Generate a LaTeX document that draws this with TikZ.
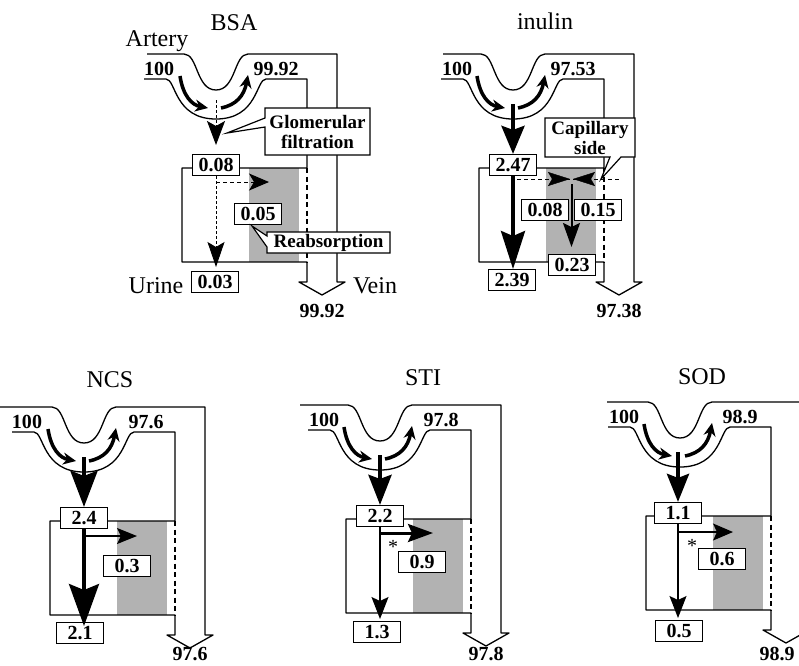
\documentclass[tikz,border=0pt]{standalone}
\usepackage{fontspec}
\setmainfont{Liberation Serif}
\usetikzlibrary{arrows.meta}
\newcommand\kidneyoutline[2]{%
  \fill[cellfill] (33,114) rectangle (83,208);
  \draw[tubeline] (#1,0) -- (-32,0) .. controls (-18,0) and (-20,36) .. (0,36)
     .. controls (20,36) and (18,0) .. (32,0) -- (#2,0) -- (#2,228) -- (129,228)
     -- (106,241) -- (83,228) -- (91,228) -- (91,208) -- (-34,208) -- (-34,114)
     -- (91,114) -- (91,25) -- (50,25)
     .. controls (40,25) and (42,65) .. (0,65) .. controls (-42,65) and (-40,25) .. (-50,25)
     -- (-72,25);
  \draw[capdash] (91,114) -- (91,208);
  \draw[uarrow] (-36,22) .. controls (-33,42) and (-24,51) .. (-8,54);
  \draw[uarrow] (5,54) .. controls (20,51) and (28,42) .. (32,21);
}
\begin{document}
\begin{tikzpicture}[x=1pt,y=-1pt,
  tubeline/.style={line width=1.3pt,line join=round},
  capdash/.style={line width=1.6pt,dash pattern=on 5pt off 3.5pt},
  cellfill/.style={fill=black!30},
  lab/.style={draw,fill=white,line width=1.2pt,inner sep=1.5pt,minimum width=47pt,minimum height=21pt,font=\bfseries\fontsize{20}{22}\selectfont},
  num/.style={font=\bfseries\fontsize{20}{22}\selectfont,anchor=base,inner sep=0pt},
  ttl/.style={font=\fontsize{24}{26}\selectfont,inner sep=0pt},
  word/.style={font=\fontsize{24}{26}\selectfont,anchor=base,inner sep=0pt},
  star/.style={font=\fontsize{20}{22}\selectfont,anchor=base,inner sep=0pt},
  calloutbox/.style={draw,fill=white,line width=1.2pt,line join=miter},
  calltext/.style={font=\bfseries\fontsize{19}{20}\selectfont,align=center,inner sep=0pt},
  uarrow/.style={line width=3.5pt,-{Stealth[length=13pt,width=12pt]}},
  flowdash/.style={line width=1pt,dash pattern=on 3pt off 2pt},
]
\useasboundingbox (0,0) rectangle (799,665);

% ---------------- BSA ----------------
\begin{scope}[shift={(216,54)}]
  \kidneyoutline{-69}{121}
  \node[lab] (bsaF) at (0,111) {0.08};
  \node[lab] (bsaR) at (42,160) {0.05};
  \node[lab] (bsaO) at (-1,228) {0.03};
  \node[num] (bsaIn) at (-57,21) {100};
  \node[num] (bsaOut) at (60,21) {99.92};
  \coordinate (bsaUa) at (0,46);
  \coordinate (bsaUb) at (0,91);
  \draw[flowdash,-{Stealth[length=24pt,width=18pt,inset=5pt]}] (bsaUa) -- (bsaUb);
  \coordinate (bsaT) at (0,213);
  \draw[flowdash,-{Stealth[length=25pt,width=17pt,inset=5pt]}] (bsaF.south) -- (bsaT);
  \coordinate (bsaJ) at (0,128);
  \coordinate (bsaH) at (53,128);
  \draw[line width=1pt,dash pattern=on 4pt off 3pt,-{Stealth[length=20pt,width=17pt,inset=5pt]}] (bsaJ) -- (bsaH);
\end{scope}

% ---------------- inulin ----------------
\begin{scope}[shift={(513,54)}]
  \kidneyoutline{-70}{121}
  \node[lab] (inuF) at (0,111) {2.47};
  \node[lab] (inuA) at (32,156) {0.08};
  \node[lab] (inuB) at (85,156) {0.15};
  \node[lab] (inuC) at (59,211) {0.23};
  \node[lab] (inuO) at (-1,226) {2.39};
  \node[num] (inuIn) at (-56,21) {100};
  \node[num] (inuOut) at (60,21) {97.53};
  \coordinate (inuU) at (0,50);
  \draw[line width=4pt,-{Stealth[length=28pt,width=23pt,inset=4pt]}] (inuU) -- (inuF.north);
  \coordinate (inuT) at (0,215);
  \draw[line width=3.5pt,-{Stealth[length=38pt,width=24pt,inset=5pt]}] (inuF.south) -- (inuT);
  \coordinate (inuDa) at (4,125);
  \coordinate (inuDb) at (107,125);
  \draw[line width=1pt,dash pattern=on 4pt off 3pt] (inuDa) -- (inuDb);
  \coordinate (inuLa) at (55,125);
  \coordinate (inuLb) at (57,125);
  \coordinate (inuRa) at (62,125);
  \coordinate (inuRb) at (60,125);
  \draw[-{Stealth[length=22pt,width=14pt,inset=4pt]}] (inuLa) -- (inuLb);
  \draw[-{Stealth[length=22pt,width=14pt,inset=4pt]}] (inuRa) -- (inuRb);
  \coordinate (inuM) at (58.5,130);
  \coordinate (inuN) at (58.5,193);
  \draw[line width=2pt,-{Stealth[length=24pt,width=17pt,inset=4pt]}] (inuM) -- (inuN);
\end{scope}

% ---------------- NCS ----------------
\begin{scope}[shift={(84,407)}]
  \kidneyoutline{-84}{121}
  \node[lab] (ncsF) at (0,111) {2.4};
  \node[lab] (ncsR) at (43,159) {0.3};
  \node[lab] (ncsO) at (-4,226) {2.1};
  \node[num] (ncsIn) at (-57,21) {100};
  \node[num] (ncsOut) at (62,21) {97.6};
  \coordinate (ncsU) at (0,50);
  \draw[line width=4pt,-{Stealth[length=36pt,width=27pt,inset=5pt]}] (ncsU) -- (ncsF.north);
  \coordinate (ncsT) at (0,219);
  \draw[line width=3.5pt,-{Stealth[length=42pt,width=30pt,inset=6pt]}] (ncsF.south) -- (ncsT);
  \coordinate (ncsJ) at (0,129);
  \coordinate (ncsH) at (53,129);
  \draw[line width=1.3pt,-{Stealth[length=20pt,width=16pt,inset=4pt]}] (ncsJ) -- (ncsH);
\end{scope}

% ---------------- STI ----------------
\begin{scope}[shift={(380,405)}]
  \kidneyoutline{-80}{121}
  \node[lab] (stiF) at (0,111) {2.2};
  \node[lab] (stiR) at (42,157) {0.9};
  \node[lab] (stiO) at (-3,227) {1.3};
  \node[num] (stiIn) at (-56,21) {100};
  \node[num] (stiOut) at (61,21) {97.8};
  \node[star] (stiStar) at (13,148) {*};
  \coordinate (stiU) at (0,50);
  \draw[line width=4pt,-{Stealth[length=30pt,width=23pt,inset=4pt]}] (stiU) -- (stiF.north);
  \coordinate (stiT) at (0,214);
  \draw[line width=1.3pt,-{Stealth[length=22pt,width=17pt,inset=4pt]}] (stiF.south) -- (stiT);
  \coordinate (stiJ) at (0,128);
  \coordinate (stiH) at (53,128);
  \draw[line width=3pt,-{Stealth[length=25pt,width=18pt,inset=4pt]}] (stiJ) -- (stiH);
\end{scope}

% ---------------- SOD ----------------
\begin{scope}[shift={(680,402)}]
  \kidneyoutline{-73}{125}
  \node[lab] (sodF) at (-2,111) {1.1};
  \node[lab] (sodR) at (42,157) {0.6};
  \node[lab] (sodO) at (-1,229) {0.5};
  \node[num] (sodIn) at (-56,21) {100};
  \node[num] (sodOut) at (60,21) {98.9};
  \node[star] (sodStar) at (12,150) {*};
  \coordinate (sodU) at (-2,50);
  \draw[line width=4pt,-{Stealth[length=28pt,width=22pt,inset=4pt]}] (sodU) -- (sodF.north);
  \coordinate (sodT) at (-2,216);
  \draw[line width=1.3pt,-{Stealth[length=22pt,width=17pt,inset=4pt]}] (sodF.south) -- (sodT);
  \coordinate (sodJ) at (-2,130);
  \coordinate (sodH) at (53,130);
  \draw[line width=1.3pt,-{Stealth[length=20pt,width=17pt,inset=4pt]}] (sodJ) -- (sodH);
\end{scope}

% ---------------- callouts ----------------
\draw[calloutbox] (265,108) -- (370,108) -- (370,155) -- (265,155) -- (265,127) -- (227,133) -- (265,118) -- cycle;
\node[calltext] (glom) at (317.5,131.5) {Glomerular\\filtration};
\draw[calloutbox] (267,232) -- (390,232) -- (390,253) -- (267,253) -- (267,247) -- (252,226) -- (267,236) -- cycle;
\node[calltext] (reab) at (328.5,242.5) {Reabsorption};
\draw[calloutbox] (545,118) -- (635,118) -- (635,157) -- (621,157) -- (601,179) -- (610,157) -- (545,157) -- cycle;
\node[calltext] (capside) at (590,137.5) {Capillary\\side};

% ---------------- titles and words ----------------
\node[ttl] (tBSA) at (234,23) {BSA};
\node[ttl] (tinu) at (545,21) {inulin};
\node[ttl] (tNCS) at (110,380) {NCS};
\node[ttl] (tSTI) at (423,378) {STI};
\node[ttl] (tSOD) at (702,377) {SOD};
\node[word] (artery) at (157,46) {Artery};
\node[word] (urine) at (156,293) {Urine};
\node[word] (vein) at (375,293) {Vein};

% ---------------- venous outflow ----------------
\node[num] (bsaV) at (322,317) {99.92};
\node[num] (inuV) at (619,317) {97.38};
\node[num] (ncsV) at (190,660) {97.6};
\node[num] (stiV) at (486,660) {97.8};
\node[num] (sodV) at (777,660) {98.9};
\end{tikzpicture}
\end{document}
